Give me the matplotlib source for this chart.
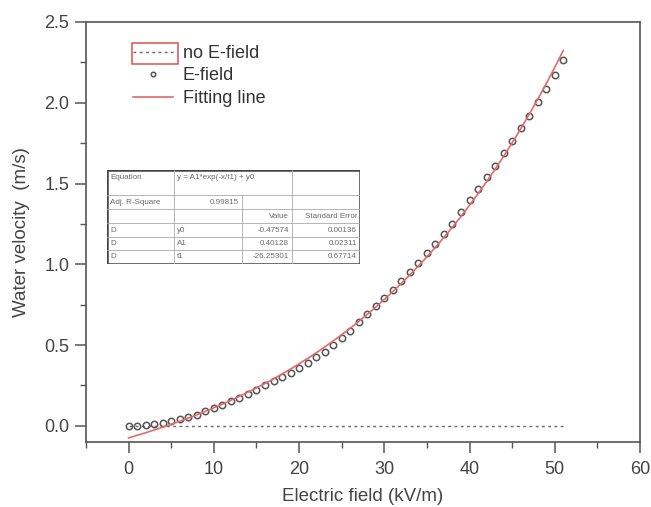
import numpy as np
import matplotlib
matplotlib.use("Agg")
import matplotlib.pyplot as plt
from matplotlib.patches import Rectangle
from matplotlib.ticker import MultipleLocator

# ---- data ----
field_kv = list(range(0, 52))
velocity = [0.0, 0.002, 0.006, 0.012, 0.02, 0.03, 0.04, 0.055, 0.07, 0.09,
            0.11, 0.13, 0.155, 0.175, 0.195, 0.22, 0.25, 0.275, 0.30, 0.33,
            0.36, 0.39, 0.425, 0.46, 0.50, 0.545, 0.59, 0.64, 0.69, 0.74,
            0.79, 0.844, 0.896, 0.951, 1.009, 1.068, 1.128, 1.19, 1.252, 1.325,
            1.397, 1.466, 1.538, 1.61, 1.687, 1.766, 1.843, 1.92, 2.005, 2.088,
            2.175, 2.264]
no_field_x = [0, 51]
no_field_y = [0.0, 0.0]
# fit parameters (from table): y = A1*exp(-x/t1) + y0
fit_y0 = -0.47574
fit_A1 = 0.40128
fit_t1 = -26.25301
fit_range = [0, 51]

table_rows = [
    ["Equation", "y = A1*exp(-x/t1) + y0", "", ""],
    ["Adj. R-Square", "0.99815", "", ""],
    ["", "", "Value", "Standard Error"],
    ["D", "y0", "-0.47574", "0.00136"],
    ["D", "A1", "0.40128", "0.02311"],
    ["D", "t1", "-26.25301", "0.67714"],
]

W, H = 651, 507
fig = plt.figure(figsize=(W / 100, H / 100), dpi=100)
plt.rcParams['font.family'] = ['Liberation Sans', 'DejaVu Sans']

ax = fig.add_axes([86 / W, 1 - 442 / H, (640 - 86) / W, (442 - 22) / H])
gray = '#555555'

fx = np.linspace(fit_range[0], fit_range[1], 300)
fy = fit_A1 * np.exp(-fx / fit_t1) + fit_y0

l1, = ax.plot(no_field_x, no_field_y, linestyle=(0, (2, 2.5)), color='#666666', lw=1.0, label='no E-field')
l2, = ax.plot(field_kv, velocity, linestyle='none', marker='o', markersize=4.6,
              markerfacecolor='none', markeredgecolor='#555555', markeredgewidth=1.1, label='E-field')
l3, = ax.plot(fx, fy, color='#e46a6a', lw=1.2, label='Fitting line')

ax.set_xlim(-5, 60)
ax.set_ylim(-0.1, 2.5)
ax.xaxis.set_major_locator(MultipleLocator(10))
ax.xaxis.set_minor_locator(MultipleLocator(5))
ax.yaxis.set_minor_locator(MultipleLocator(0.25))
ax.set_yticks([0.0, 0.5, 1.0, 1.5, 2.0, 2.5])
ax.set_yticklabels(['0.0', '0.5', '1.0', '1.5', '2.0', '2.5'])
ax.tick_params(axis='both', which='major', direction='out', length=8, width=1.1,
               color=gray, labelsize=13, labelcolor='#444444')
ax.tick_params(axis='x', which='major', pad=6)
ax.tick_params(axis='y', which='major', pad=4)
ax.tick_params(axis='both', which='minor', direction='out', length=4, width=1.0, color=gray)
for s in ax.spines.values():
    s.set_color(gray)
    s.set_linewidth(1.2)

ax.set_xlabel('Electric field (kV/m)', fontsize=13.5, color='#444444', labelpad=7)
ax.set_ylabel('Water velocity  (m/s)', fontsize=13.5, color='#444444', labelpad=10)

leg = ax.legend(handles=[l1, l2, l3], loc='upper left', bbox_to_anchor=(133 / W, 1 - 45 / H),
                bbox_transform=fig.transFigure, frameon=False, fontsize=13,
                handlelength=2.2, handletextpad=0.55, labelspacing=0.3, borderpad=0,
                borderaxespad=0, markerscale=0.7)
for t in leg.get_texts():
    t.set_color('#333333')

fig.patches.append(Rectangle((132 / W, 1 - 64 / H), 46 / W, 21 / H, transform=fig.transFigure,
                             fill=False, edgecolor='#e05050', lw=1.1))

# ---- inset table ----
tx0, tx1 = 107, 360
col_x = [107, 174, 242, 292, 360]
row_y = [170, 195, 209, 223, 237, 250, 264]
tab = fig.add_axes([tx0 / W, 1 - row_y[-1] / H, (tx1 - tx0) / W, (row_y[-1] - row_y[0]) / H])
tab.set_xlim(tx0, tx1)
tab.set_ylim(row_y[-1], row_y[0])
tab.axis('off')
tab.add_patch(Rectangle((tx0, row_y[0]), tx1 - tx0, row_y[-1] - row_y[0], facecolor='white',
                        edgecolor='#444444', lw=1.8, zorder=1))
line_c = '#aaaaaa'
for y in row_y[1:-1]:
    tab.plot([tx0, tx1], [y, y], color=line_c, lw=0.6, zorder=2)
tab.plot([col_x[1]] * 2, [row_y[0], row_y[-1]], color=line_c, lw=0.6, zorder=2)
tab.plot([col_x[2]] * 2, [row_y[1], row_y[-1]], color=line_c, lw=0.6, zorder=2)
tab.plot([col_x[3]] * 2, [row_y[0], row_y[-1]], color=line_c, lw=0.6, zorder=2)
tc = '#6a6a6a'
fs = 5.8
for r, row in enumerate(table_rows):
    yc = row_y[r] + (row_y[r + 1] - row_y[r]) * (0.3 if r == 0 else 0.5)
    for c, txt in enumerate(row):
        if not txt:
            continue
        if (r >= 2 and c >= 2) or (r == 1 and c == 1):
            tab.text(col_x[c + 1] - 3, yc, txt, fontsize=fs, color=tc, ha='right', va='center', zorder=3)
        else:
            tab.text(col_x[c] + 3, yc, txt, fontsize=fs, color=tc, ha='left', va='center', zorder=3)

fig.savefig('out.png', dpi=100)
